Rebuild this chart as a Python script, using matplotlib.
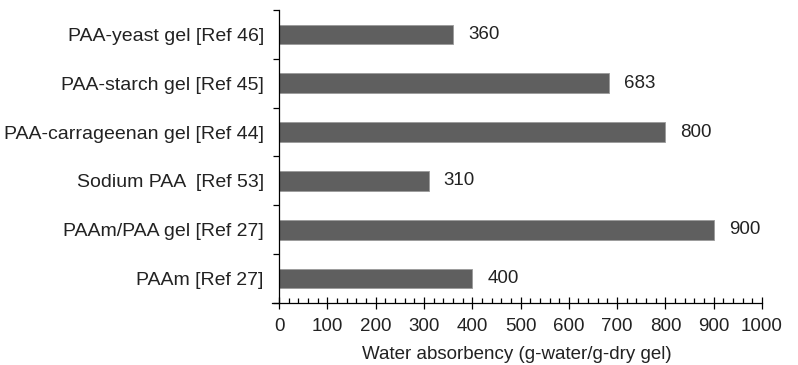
import numpy as np
import matplotlib.pyplot as plt
from matplotlib.ticker import MultipleLocator

# Water absorbency data (bottom to top in the chart)
labels = ["PAAm [Ref 27]", "PAAm/PAA gel [Ref 27]", "Sodium PAA  [Ref 53]",
          "PAA-carrageenan gel [Ref 44]", "PAA-starch gel [Ref 45]",
          "PAA-yeast gel [Ref 46]"]
values = [400, 900, 310, 800, 683, 360]

plt.rcParams['font.family'] = ['Liberation Sans', 'DejaVu Sans']
plt.rcParams['font.size'] = 13.5

fig = plt.figure(figsize=(7.98, 3.65), dpi=100)
ax = fig.add_axes([0.3409, 0.1699, 0.9549 - 0.3409, 0.9726 - 0.1699])

y = np.arange(len(labels))
ax.barh(y, values, height=0.4, color='#5f5f5f', edgecolor='#9a9a9a', linewidth=0.6)

# value labels next to bars
for yi, v in zip(y, values):
    ax.text(v + 31, yi, str(v), va='center', ha='left', fontsize=13.5, color='#222222')

ax.set_xlim(-14.5, 1000)
ax.set_ylim(-0.5, len(labels) - 0.5)

# y axis: ticks at category boundaries, labels at centres
ax.set_yticks(np.arange(-0.5, len(labels)), minor=False)
ax.set_yticklabels([])
ax.set_yticks(y, minor=True)
ax.set_yticklabels(labels, minor=True)
ax.tick_params(axis='y', which='major', direction='out', length=4.5, width=0.9)
ax.tick_params(axis='y', which='minor', length=0, pad=11, labelsize=14, labelcolor='#222222')

# x axis
ax.xaxis.set_major_locator(MultipleLocator(100))
ax.xaxis.set_minor_locator(MultipleLocator(20))
ax.tick_params(axis='x', which='major', direction='inout', length=8, width=0.9,
               pad=7, labelsize=13.5, labelcolor='#222222')
ax.tick_params(axis='x', which='minor', direction='in', length=3.5, width=0.9)
ax.set_xlabel("Water absorbency (g-water/g-dry gel)", fontsize=13.5, color='#222222', labelpad=8)

ax.spines['top'].set_visible(False)
ax.spines['right'].set_visible(False)
ax.spines['left'].set_position(('data', 0))
ax.spines['left'].set_linewidth(0.9)
ax.spines['bottom'].set_linewidth(0.9)

fig.savefig("out.png", dpi=100)
